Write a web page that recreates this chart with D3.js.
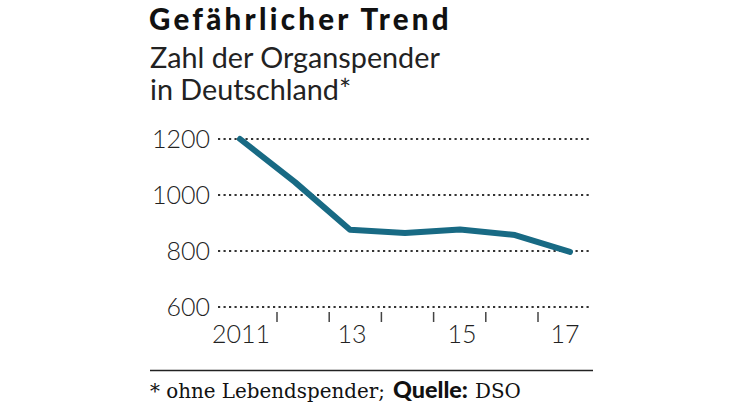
<!DOCTYPE html>
<html><head><meta charset="utf-8">
<script src="https://cdn.jsdelivr.net/npm/d3@7"></script>
<style>html,body{margin:0;padding:0;background:#fff;}</style>
</head><body>
<svg id="c" width="740" height="416"></svg>
<script>
const years = [2011, 2012, 2013, 2014, 2015, 2016, 2017];
const donors = [1200, 1046, 876, 864, 877, 857, 797];
const yTicks = [600, 800, 1000, 1200];
const xLabels = [[2011, "2011"], [2013, "13"], [2015, "15"], [2017, "17"]];
const tickYears = [2011.5, 2012.5, 2013.5, 2014.5, 2015.5, 2016.5];

const svg = d3.select("#c");
const x = d3.scaleLinear().domain([2011, 2017]).range([240, 570]);
const xt = d3.scaleLinear().domain([2011.5, 2016.5]).range([277, 538]);
const y = d3.scaleLinear().domain([600, 1200]).range([307, 139]);

function fit(sel, target, base) {
  const w = sel.node().getComputedTextLength();
  if (w > 0) sel.attr("font-size", base * target / w);
  return sel;
}
function spread(sel, target) {
  const w = sel.node().getComputedTextLength();
  const n = sel.text().length;
  if (w > 0 && n > 1) sel.attr("letter-spacing", (target - w) / n);
  return sel;
}

const title = svg.append("text").attr("x", 149).attr("y", 29.5)
  .attr("font-family", "Lato").attr("font-weight", 900)
  .attr("font-size", 29.5).attr("fill", "#111").text("Gefährlicher Trend");
spread(title, 303);
const sub = svg.append("g").attr("font-family", "Lato").attr("font-weight", 400).attr("fill", "#222");
const s1 = sub.append("text").attr("x", 150).attr("y", 68).attr("font-size", 28).text("Zahl der Organspender");
fit(s1, 290, 28);
sub.append("text").attr("x", 150).attr("y", 100).attr("font-size", s1.attr("font-size")).text("in Deutschland*");

// grid
svg.append("g").selectAll("line").data(yTicks).join("line")
  .attr("x1", 218).attr("x2", 591)
  .attr("y1", d => y(d)).attr("y2", d => y(d))
  .attr("stroke", "#333").attr("stroke-width", 2.2).attr("stroke-dasharray", "2.2,3.3");
svg.append("g").selectAll("text").data(yTicks).join("text")
  .attr("x", 210).attr("y", d => y(d) + 9).attr("text-anchor", "end")
  .attr("font-family", "Lato").attr("font-weight", 300).attr("font-size", 25).attr("fill", "#222").text(d => d);

// x ticks
svg.append("g").selectAll("line").data(tickYears).join("line")
  .attr("x1", d => xt(d)).attr("x2", d => xt(d)).attr("y1", 312).attr("y2", 322)
  .attr("stroke", "#444").attr("stroke-width", 1.5);
svg.append("g").selectAll("text").data(xLabels).join("text")
  .attr("x", d => x(d[0]) + (d[1] === "17" ? -5 : (d[1] === "2011" ? 1 : 2))).attr("y", 343).attr("text-anchor", "middle")
  .attr("font-family", "Lato").attr("font-weight", 300).attr("font-size", 25).attr("fill", "#222").text(d => d[1]);

// line
const line = d3.line().x((d, i) => x(years[i])).y(d => y(d));
svg.append("path").datum(donors).attr("d", line).attr("fill", "none")
  .attr("stroke", "#186a84").attr("stroke-width", 6)
  .attr("stroke-linecap", "round").attr("stroke-linejoin", "round");

// separator
svg.append("line").attr("x1", 150).attr("x2", 593).attr("y1", 370.5).attr("y2", 370.5)
  .attr("stroke", "#222").attr("stroke-width", 1.5);

const f1 = svg.append("text").attr("x", 150).attr("y", 398).attr("font-family", "DejaVu Serif")
  .attr("font-size", 19).attr("fill", "#111").text("* ohne Lebendspender;");
fit(f1, 235, 19);
const f2 = svg.append("text").attr("x", 393).attr("y", 398).attr("font-family", "Lato").attr("font-weight", 900)
  .attr("font-size", 20).attr("fill", "#111").text("Quelle:");
fit(f2, 75, 20);
svg.append("text").attr("x", 475).attr("y", 398).attr("font-family", "DejaVu Serif")
  .attr("font-size", f1.attr("font-size")).attr("fill", "#111").text("DSO");
</script>
</body></html>
